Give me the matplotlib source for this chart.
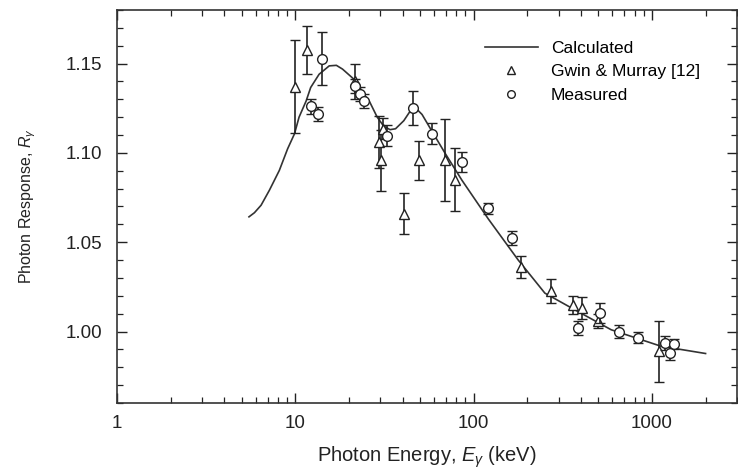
import matplotlib
matplotlib.use("Agg")
import matplotlib.pyplot as plt
from matplotlib.lines import Line2D
from matplotlib.ticker import LogLocator, FixedLocator, MultipleLocator, NullFormatter, FixedFormatter

plt.rcParams['font.family'] = ['Liberation Sans', 'DejaVu Sans']
plt.rcParams['mathtext.fontset'] = 'custom'
plt.rcParams['mathtext.it'] = 'Liberation Sans:italic'
plt.rcParams['mathtext.rm'] = 'Liberation Sans'

# Calculated photon response curve
calc_energy = [5.5, 5.9, 6.43, 7.16, 8.14, 9.06, 9.9, 10.5, 11.5, 12.2, 13.6, 15.5,
               17.0, 18.4, 21.8, 24.2, 26.0, 28.8, 31.3, 34.0, 36.5, 40.6, 43.5,
               45.6, 48.0, 51.4, 58.5, 69.5, 86.0, 121.0, 178.0, 251.0, 354.0,
               591.0, 1123.0, 2000.0]
calc_resp = [1.0642, 1.0665, 1.0707, 1.0791, 1.0902, 1.1023, 1.1107, 1.1200, 1.1290,
             1.1366, 1.1440, 1.1487, 1.1490, 1.1469, 1.1404, 1.1330, 1.1290, 1.1200,
             1.1150, 1.1130, 1.1135, 1.1180, 1.1225, 1.1245, 1.1245, 1.1215, 1.1120,
             1.0995, 1.0847, 1.0630, 1.0400, 1.0215, 1.0132, 1.0010, 0.9918, 0.9877]

# Gwin & Murray [12]
gwin_energy = [10.0, 11.6, 21.5, 29.5, 30.4, 31.0, 40.6, 49.7, 69.5, 79.0,
               184.0, 270.0, 359.0, 403.0, 500.0, 1094.0]
gwin_resp = [1.137, 1.1575, 1.140, 1.106, 1.0958, 1.1135, 1.066, 1.0958, 1.0958, 1.085,
             1.036, 1.0225, 1.015, 1.0132, 1.006, 0.989]
gwin_err = [0.026, 0.0135, 0.010, 0.0145, 0.017, 0.006, 0.0115, 0.011, 0.023, 0.0177,
            0.006, 0.0067, 0.005, 0.006, 0.004, 0.017]

# Measured
meas_energy = [12.2, 13.4, 14.1, 21.6, 23.0, 24.3, 32.8, 45.6, 58.5, 86.0, 121.0,
               164.0, 386.0, 510.0, 652.0, 836.0, 1178.0, 1270.0, 1327.0]
meas_resp = [1.126, 1.1218, 1.1528, 1.1376, 1.133, 1.129, 1.1097, 1.125, 1.1107, 1.0949,
             1.0689, 1.0522, 1.002, 1.0104, 1.000, 0.9965, 0.9937, 0.988, 0.9931]
meas_err = [0.004, 0.004, 0.015, 0.004, 0.004, 0.004, 0.006, 0.0095, 0.006, 0.0055,
            0.003, 0.004, 0.004, 0.0056, 0.0035, 0.003, 0.004, 0.004, 0.003]

x_ticks = [1, 10, 100, 1000]
x_ticklabels = ['1', '10', '100', '1000']
y_ticks = [1.00, 1.05, 1.10, 1.15]
y_ticklabels = ['1.00', '1.05', '1.10', '1.15']

fig = plt.figure(figsize=(7.38, 4.74), dpi=100)
ax = fig.add_axes([0.1585, 0.1498, 0.8401, 0.8292])

ax.plot(calc_energy, calc_resp, color='#333333', lw=1.2, zorder=2)

ax.errorbar(gwin_energy, gwin_resp, yerr=gwin_err, fmt='^', ms=7, mfc='white',
            mec='#222222', mew=1.0, ecolor='#222222', elinewidth=1.2, capsize=3.5,
            capthick=1.2, zorder=3)
ax.errorbar(meas_energy, meas_resp, yerr=meas_err, fmt='o', ms=7, mfc='white',
            mec='#222222', mew=1.0, ecolor='#222222', elinewidth=1.2, capsize=3.5,
            capthick=1.2, zorder=4)

ax.set_xscale('log')
ax.set_xlim(1, 3000)
ax.set_ylim(0.96, 1.18)

ax.xaxis.set_major_locator(FixedLocator(x_ticks))
ax.xaxis.set_major_formatter(FixedFormatter(x_ticklabels))
ax.xaxis.set_minor_locator(LogLocator(base=10, subs=range(2, 10), numticks=20))
ax.xaxis.set_minor_formatter(NullFormatter())
ax.yaxis.set_major_locator(FixedLocator(y_ticks))
ax.yaxis.set_major_formatter(FixedFormatter(y_ticklabels))
ax.yaxis.set_minor_locator(MultipleLocator(0.01))

ax.tick_params(which='both', direction='in', top=True, right=True,
               labelsize=13.5, colors='#222222')
ax.tick_params(axis='y', pad=10.5)
ax.tick_params(axis='x', pad=9)
ax.tick_params(which='major', length=7, width=1.0)
ax.tick_params(which='minor', length=4, width=0.9)
for s in ax.spines.values():
    s.set_color('#333333')
    s.set_linewidth(1.2)

ax.set_xlabel(r'Photon Energy, $\mathit{E}_{\gamma}$ (keV)', fontsize=14.5,
              color='#222222', labelpad=9)
ax.set_ylabel(r'Photon Response, $\mathit{R}_{\gamma}$', fontsize=11.5,
              color='#222222', labelpad=20)

handles = [
    Line2D([], [], color='#333333', lw=1.2),
    Line2D([], [], marker='^', ls='none', ms=5.5, mfc='white', mec='#222222', mew=1.0),
    Line2D([], [], marker='o', ls='none', ms=5.5, mfc='white', mec='#222222', mew=1.0),
]
labels = ['Calculated', 'Gwin & Murray [12]', 'Measured']
ax.legend(handles, labels, loc='upper left', bbox_to_anchor=(0.5935, 0.921),
          frameon=False, fontsize=12.5, handlelength=3.05, labelspacing=0.47,
          handletextpad=0.75, borderpad=0, borderaxespad=0)

fig.savefig('out.png', dpi=100)
